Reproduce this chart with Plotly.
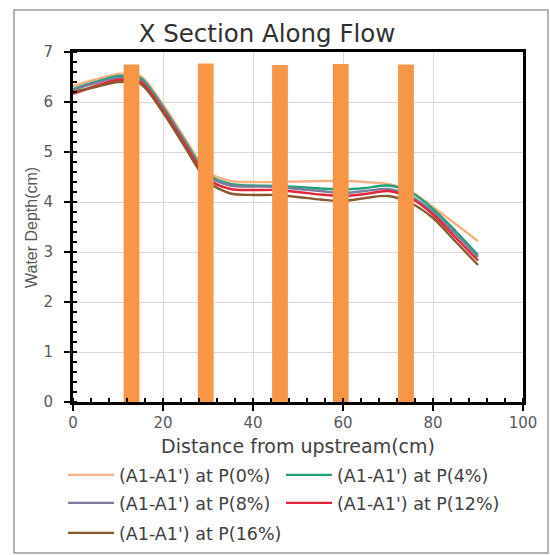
import plotly.graph_objects as go

# ---- data ----
distance = [0, 5, 10, 15, 20, 25, 30, 35, 40, 45, 50, 55, 60, 65, 70, 75, 80, 85, 90]
p0  = [6.32, 6.45, 6.56, 6.52, 5.95, 5.25, 4.60, 4.42, 4.40, 4.40, 4.41, 4.42, 4.42, 4.40, 4.36, 4.22, 3.90, 3.56, 3.22]
p4  = [6.26, 6.40, 6.52, 6.48, 5.90, 5.20, 4.55, 4.36, 4.33, 4.32, 4.30, 4.27, 4.25, 4.28, 4.33, 4.20, 3.86, 3.42, 2.94]
p8  = [6.24, 6.38, 6.48, 6.44, 5.87, 5.17, 4.52, 4.33, 4.31, 4.30, 4.26, 4.22, 4.18, 4.22, 4.26, 4.12, 3.80, 3.36, 2.90]
p12 = [6.16, 6.32, 6.44, 6.40, 5.83, 5.13, 4.46, 4.26, 4.24, 4.24, 4.20, 4.15, 4.12, 4.16, 4.22, 4.08, 3.75, 3.29, 2.83]
p16 = [6.20, 6.30, 6.40, 6.36, 5.79, 5.08, 4.40, 4.17, 4.14, 4.14, 4.10, 4.05, 4.02, 4.08, 4.12, 3.98, 3.68, 3.21, 2.74]

series_names = ["(A1-A1') at P(0%)", "(A1-A1') at P(4%)", "(A1-A1') at P(8%)",
                "(A1-A1') at P(12%)", "(A1-A1') at P(16%)"]
series_values = [p0, p4, p8, p12, p16]
series_colors = ["#F4B183", "#1FA27A", "#7C7C9C", "#E3263A", "#8A5A2E"]
series_legend = ["legend", "legend", "legend2", "legend2", "legend3"]

pier_x = [13, 29.5, 46, 59.5, 74]
pier_h = [6.75, 6.77, 6.74, 6.76, 6.75]

FONT = "DejaVu Sans"

fig = go.Figure()
for name, vals, col, lg in zip(series_names, series_values, series_colors, series_legend):
    fig.add_trace(go.Scatter(x=distance, y=vals, mode="lines", name=name,
                             line=dict(color=col, width=2.4, shape="spline", smoothing=0.8),
                             legend=lg))

fig.add_trace(go.Bar(x=pier_x, y=pier_h, width=3.5, marker=dict(color="#F79646", line=dict(width=0)),
                     xaxis="x2", yaxis="y2", showlegend=False))

axis_common = dict(showline=True, linecolor="black", linewidth=3, mirror=True,
                   showgrid=True, gridcolor="#D9D9D9", gridwidth=1, zeroline=False,
                   ticks="outside", ticklen=6, tickwidth=2, tickcolor="black", automargin=False,
                   tickfont=dict(family=FONT, size=15, color="#595959"))

fig.update_layout(
    width=550, height=555,
    margin=dict(l=73, r=27, t=52, b=153, autoexpand=False),
    paper_bgcolor="white", plot_bgcolor="white",
    title=dict(text="X Section Along Flow", x=(267 - 73) / 450, xref="paper", xanchor="center",
               y=1 - 33 / 555, yanchor="middle",
               font=dict(family=FONT, size=24.5, color="#303030")),
    xaxis=dict(range=[0, 100], dtick=20, ticklabelstandoff=-1,
               minor=dict(dtick=4, ticks="inside", ticklen=4, tickwidth=2, tickcolor="black", showgrid=False),
               title=dict(text="Distance from upstream(cm)", standoff=9,
                          font=dict(family=FONT, size=19, color="#404040")),
               **axis_common),
    yaxis=dict(range=[0, 7], dtick=1, ticklabelstandoff=8,
               minor=dict(dtick=0.2, ticks="inside", ticklen=4, tickwidth=2, tickcolor="black", showgrid=False),
               **axis_common),
    xaxis2=dict(range=[0, 100], overlaying="x", visible=False),
    yaxis2=dict(range=[0, 7], overlaying="y", visible=False),
    showlegend=True,
)

legend_common = dict(orientation="h", xref="paper", yref="paper", xanchor="left", yanchor="middle",
                     entrywidth=157, entrywidthmode="pixels", bgcolor="rgba(0,0,0,0)",
                     font=dict(family=FONT, size=17.5, color="#404040"), itemwidth=46)
fig.update_layout(
    legend=dict(x=(63 - 73) / 450, y=(402 - 475) / 350, **legend_common),
    legend2=dict(x=(63 - 73) / 450, y=(402 - 503) / 350, **legend_common),
    legend3=dict(x=(63 - 73) / 450, y=(402 - 533) / 350, **legend_common),
)

# y axis title (rotated, small)
fig.add_annotation(text="Water Depth(cm)", xref="paper", yref="paper",
                   x=(31 - 73) / 450, y=(402 - 228) / 350, xanchor="center", yanchor="middle",
                   textangle=-90, showarrow=False,
                   font=dict(family="Liberation Sans Narrow, Liberation Sans", size=16, color="#595959"))

# outer chart frame
fig.add_shape(type="rect", xref="paper", yref="paper",
              x0=(14 - 73) / 450, x1=(548 - 73) / 450,
              y0=(402 - 553) / 350, y1=(402 - 10) / 350,
              line=dict(color="#9A9A9A", width=1.5), fillcolor="rgba(0,0,0,0)", layer="below")

fig.write_html("out.html")
